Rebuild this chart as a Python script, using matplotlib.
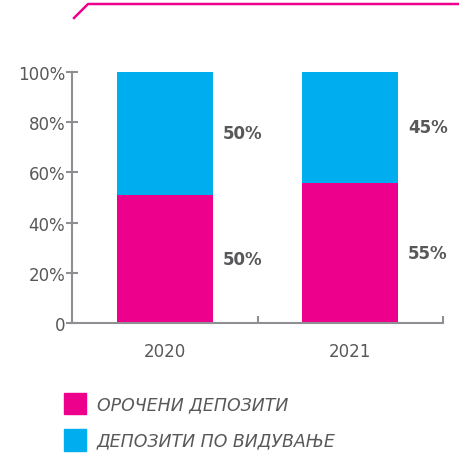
import matplotlib
matplotlib.use('Agg')
import matplotlib.pyplot as plt
from matplotlib.lines import Line2D
from matplotlib.patches import Patch
import numpy as np

plt.rcParams['font.family'] = ['DejaVu Sans']

# data
years = ['2020', '2021']
orocheni = [51, 55.8]      # term deposits (bar heights)
po_viduvanje = [49, 44.2]  # demand deposits
orocheni_lbl = ['50%', '55%']
po_viduvanje_lbl = ['50%', '45%']
series_names = ['ОРОЧЕНИ ДЕПОЗИТИ', 'ДЕПОЗИТИ ПО ВИДУВАЊЕ']

PINK = '#EC008C'
BLUE = '#00AEEF'
AXIS = '#8E8E93'
TEXT = '#58585A'

fig = plt.figure(figsize=(4.6, 4.56), dpi=100)
ax = fig.add_axes([72/460, 1-324/456, (443-72)/460, (324-73)/456])

x = np.arange(len(years))
w = 0.52
ax.bar(x, orocheni, w, color=PINK, label=series_names[0])
ax.bar(x, po_viduvanje, w, bottom=orocheni, color=BLUE, label=series_names[1])

# value labels to the right of the bars
for i in range(len(years)):
    ax.text(x[i] + w/2 + 0.05, orocheni[i]/2, orocheni_lbl[i], ha='left', va='center',
            fontsize=12, fontweight='bold', color=TEXT)
    ax.text(x[i] + w/2 + 0.05, orocheni[i] + po_viduvanje[i]/2, po_viduvanje_lbl[i],
            ha='left', va='center', fontsize=12, fontweight='bold', color=TEXT)

ax.set_xlim(-0.5, 1.5)
ax.set_ylim(0, 100)
ax.set_yticks([0, 20, 40, 60, 80, 100])
ax.set_yticklabels(['0', '20%', '40%', '60%', '80%', '100%'])
ax.set_xticks(x)
ax.set_xticklabels(years)
ax.set_xticks([0.5, 1.5], minor=True)

for s in ['top', 'right']:
    ax.spines[s].set_visible(False)
for s in ['left', 'bottom']:
    ax.spines[s].set_color(AXIS)
    ax.spines[s].set_linewidth(1.5)

ax.tick_params(axis='y', direction='inout', length=8, width=1.5, color=AXIS,
               labelsize=12, labelcolor=TEXT, pad=1)
ax.tick_params(axis='x', which='major', length=0, labelsize=12, labelcolor=TEXT, pad=14)
ax.tick_params(axis='x', which='minor', direction='in', length=5, width=1.5, color=AXIS)

# decorative line at top
fig.add_artist(Line2D([74/460, 88/460, 458/460], [1-19/456, 1-5/456, 1-5/456],
                      transform=fig.transFigure, color=PINK, lw=1.8))

handles = [Patch(color=PINK), Patch(color=BLUE)]
leg = fig.legend(handles, series_names, loc='upper left',
                 bbox_to_anchor=(48/460, 1-378/456), frameon=False,
                 handlelength=1.3, handleheight=1.5, handletextpad=0.6,
                 labelspacing=0.9, fontsize=12.5)
for t in leg.get_texts():
    t.set_color(TEXT)
    t.set_fontstyle('italic')

fig.savefig('out.png', dpi=100)
